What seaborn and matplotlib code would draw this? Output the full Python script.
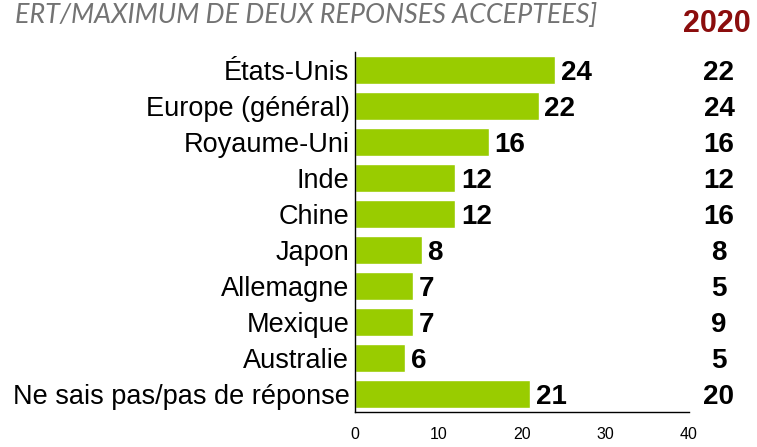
import matplotlib
matplotlib.use("Agg")
import matplotlib.pyplot as plt
import matplotlib.transforms as mtransforms
import seaborn as sns
import pandas as pd
import numpy as np

# données
pays = ['États-Unis', 'Europe (général)', 'Royaume-Uni', 'Inde', 'Chine', 'Japon',
        'Allemagne', 'Mexique', 'Australie', 'Ne sais pas/pas de réponse']
valeurs = [24, 22, 16, 12, 12, 8, 7, 7, 6, 21]
valeurs_2020 = [22, 24, 16, 12, 16, 8, 5, 9, 5, 20]
x_ticks = [0, 10, 20, 30, 40]

df = pd.DataFrame({'pays': pays, 'valeur': valeurs})

sns.set_theme(style="white")
plt.rcParams['font.family'] = ['Liberation Sans', 'DejaVu Sans']
plt.rcParams['text.color'] = 'black'
plt.rcParams['xtick.color'] = 'black'
plt.rcParams['ytick.color'] = 'black'

fig = plt.figure(figsize=(7.57, 4.47), dpi=100)
ax = fig.add_axes([355 / 757, 1 - 412 / 447, (689 - 355) / 757, (412 - 52) / 447])

sns.barplot(data=df, x='valeur', y='pays', orient='h', color='#99CC00',
            saturation=1, width=0.78, ax=ax)

ax.set_xlim(0, 40)
ax.set_ylim(9.5, -0.5)
ax.set_xticks(x_ticks)
ax.set_xticklabels([str(t) for t in x_ticks], fontsize=11.5)
ax.set_xlabel('')
ax.set_ylabel('')
ax.tick_params(axis='y', which='major', length=0, labelsize=19.5, pad=4)
ax.set_yticks(np.arange(-0.5, 10, 1), minor=True)
ax.tick_params(axis='y', which='minor', length=4, width=1, direction='out', color='black')
ax.tick_params(axis='x', length=5, width=1, direction='out', color='black', pad=6)

for s in ['top', 'right']:
    ax.spines[s].set_visible(False)
for s in ['left', 'bottom']:
    ax.spines[s].set_color('black')
    ax.spines[s].set_linewidth(1)

etiquettes = ax.bar_label(ax.containers[0], labels=[str(v) for v in valeurs], padding=4,
                          fontsize=20, fontweight='bold', color='black')
for t in etiquettes:
    t.set_va('center_baseline')

# colonne 2020
trans = mtransforms.blended_transform_factory(fig.transFigure, ax.transData)
for i, v in enumerate(valeurs_2020):
    ax.text(719 / 757, i, str(v), transform=trans, ha='center', va='center_baseline',
            fontsize=20, fontweight='bold', color='black', clip_on=False)

fig.text(717 / 757, 1 - 24 / 447, '2020', ha='center', va='center',
         fontsize=22, fontweight='bold', color='#8B0D0D')

fig.text(597 / 757, 1 - 23 / 447, 'ERT/MAXIMUM DE DEUX REPONSES ACCEPTEES]',
         ha='right', va='baseline', fontsize=19.4, style='italic', color='#737373',
         family=['Lato', 'DejaVu Sans'])

fig.savefig('out.png', dpi=100)
